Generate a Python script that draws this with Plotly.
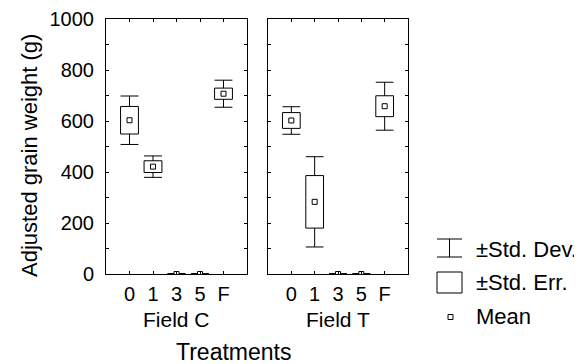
import plotly.graph_objects as go

# ---------------- data ----------------
categories = ['0', '1', '3', '5', 'F']
fields = ['Field C', 'Field T']
mean_C = [603, 421, 0, 0, 707]
se_C = [54, 23, 0, 0, 22]
sd_C = [95, 42, 0, 0, 53]
mean_T = [602, 283, 0, 0, 658]
se_T = [31, 103, 0, 0, 41]
sd_T = [54, 177, 0, 0, 94]
ytick_vals = list(range(0, 1001, 100))
ytick_text = [str(v) if v % 200 == 0 else '' for v in ytick_vals]
legend_labels = ['±Std. Dev.', '±Std. Err.', 'Mean']
x_title = 'Treatments'
y_title = 'Adjusted grain weight (g)'

W, H = 582, 364
OFF = 8  # page body margin
FONT = 'Liberation Sans, Arial, sans-serif'
HALF = 0.38  # box half width in category units

def px(x):
    return (x - OFF) / W

def py(y):
    return 1 - (y - OFF) / H

fig = go.Figure()
positions = [i + 1 for i in range(len(categories))]

panels = [(mean_C, se_C, sd_C, 'x', 'y'), (mean_T, se_T, sd_T, 'x2', 'y2')]
for means, ses, sds, xa, ya in panels:
    bx, by, wx, wy = [], [], [], []
    for p, m, se, sd in zip(positions, means, ses, sds):
        bx += [p - HALF, p + HALF, p + HALF, p - HALF, p - HALF, None]
        by += [m - se, m - se, m + se, m + se, m - se, None]
        wx += [p, p, None, p - HALF, p + HALF, None, p, p, None, p - HALF, p + HALF, None]
        wy += [m + se, m + sd, None, m + sd, m + sd, None,
               m - se, m - sd, None, m - sd, m - sd, None]
    fig.add_trace(go.Scatter(x=bx, y=by, mode='lines', fill='toself', fillcolor='white',
                             line=dict(color='black', width=1), xaxis=xa, yaxis=ya,
                             showlegend=False, hoverinfo='skip'))
    fig.add_trace(go.Scatter(x=wx, y=wy, mode='lines', line=dict(color='black', width=1),
                             xaxis=xa, yaxis=ya, showlegend=False, hoverinfo='skip'))
    fig.add_trace(go.Scatter(x=positions, y=means, mode='markers',
                             marker=dict(symbol='square', size=5, color='white',
                                         line=dict(color='black', width=1)),
                             xaxis=xa, yaxis=ya, showlegend=False))

axis_common = dict(showgrid=False, zeroline=False, showline=True, linecolor='black',
                   linewidth=1, mirror='ticks', ticks='inside', ticklen=3,
                   tickcolor='black', tickwidth=1, automargin=False,
                   tickfont=dict(family=FONT, size=20, color='black'))

fig.update_layout(
    width=W, height=H, autosize=False,
    margin=dict(l=0, r=0, t=0, b=0, autoexpand=False),
    paper_bgcolor='white', plot_bgcolor='white',
    font=dict(family=FONT, color='black'),
    xaxis=dict(domain=[px(106), px(247)], range=[0, 6], tickvals=positions,
               ticktext=categories, anchor='y', ticklabelstandoff=2, **axis_common),
    xaxis2=dict(domain=[px(268), px(408)], range=[0, 6], tickvals=positions,
                ticktext=categories, anchor='y2', ticklabelstandoff=2, **axis_common),
    yaxis=dict(domain=[py(274), py(19)], range=[0, 1000], tickvals=ytick_vals,
               ticktext=ytick_text, anchor='x', ticklabelstandoff=7, **axis_common),
    yaxis2=dict(domain=[py(274), py(19)], range=[0, 1000], tickvals=ytick_vals,
                showticklabels=False, anchor='x2', **axis_common),
)

annotations = []
# field labels
for name, cx in zip(fields, [176.5, 338]):
    annotations.append(dict(x=px(cx), y=py(319), xref='paper', yref='paper', text=name,
                            showarrow=False, xanchor='center', yanchor='middle',
                            font=dict(family=FONT, size=21, color='black')))
annotations.append(dict(x=px(233), y=py(352), xref='paper', yref='paper', text=x_title,
                        showarrow=False, xanchor='center', yanchor='middle',
                        font=dict(family=FONT, size=23, color='black')))
annotations.append(dict(x=px(29), y=py(156), xref='paper', yref='paper', text=y_title,
                        showarrow=False, xanchor='center', yanchor='middle', textangle=-90,
                        font=dict(family=FONT, size=22, color='black')))
# legend texts
for lab, cy in zip(legend_labels, [249, 282, 316]):
    annotations.append(dict(x=px(474), y=py(cy), xref='paper', yref='paper', text=lab,
                            showarrow=False, xanchor='left', yanchor='middle',
                            font=dict(family=FONT, size=22, color='black')))
fig.update_layout(annotations=annotations)

line = dict(color='black', width=1)
shapes = [
    dict(type='line', xref='paper', yref='paper', x0=px(437), x1=px(462), y0=py(239), y1=py(239), line=line),
    dict(type='line', xref='paper', yref='paper', x0=px(449.5), x1=px(449.5), y0=py(239), y1=py(257), line=line),
    dict(type='line', xref='paper', yref='paper', x0=px(437), x1=px(462), y0=py(257), y1=py(257), line=line),
    dict(type='rect', xref='paper', yref='paper', x0=px(437), x1=px(462), y0=py(293), y1=py(272), line=line),
    dict(type='rect', xref='paper', yref='paper', x0=px(448), x1=px(453), y0=py(319.5), y1=py(314.5), line=line),
]
fig.update_layout(shapes=shapes)

fig.write_html('out.html')
